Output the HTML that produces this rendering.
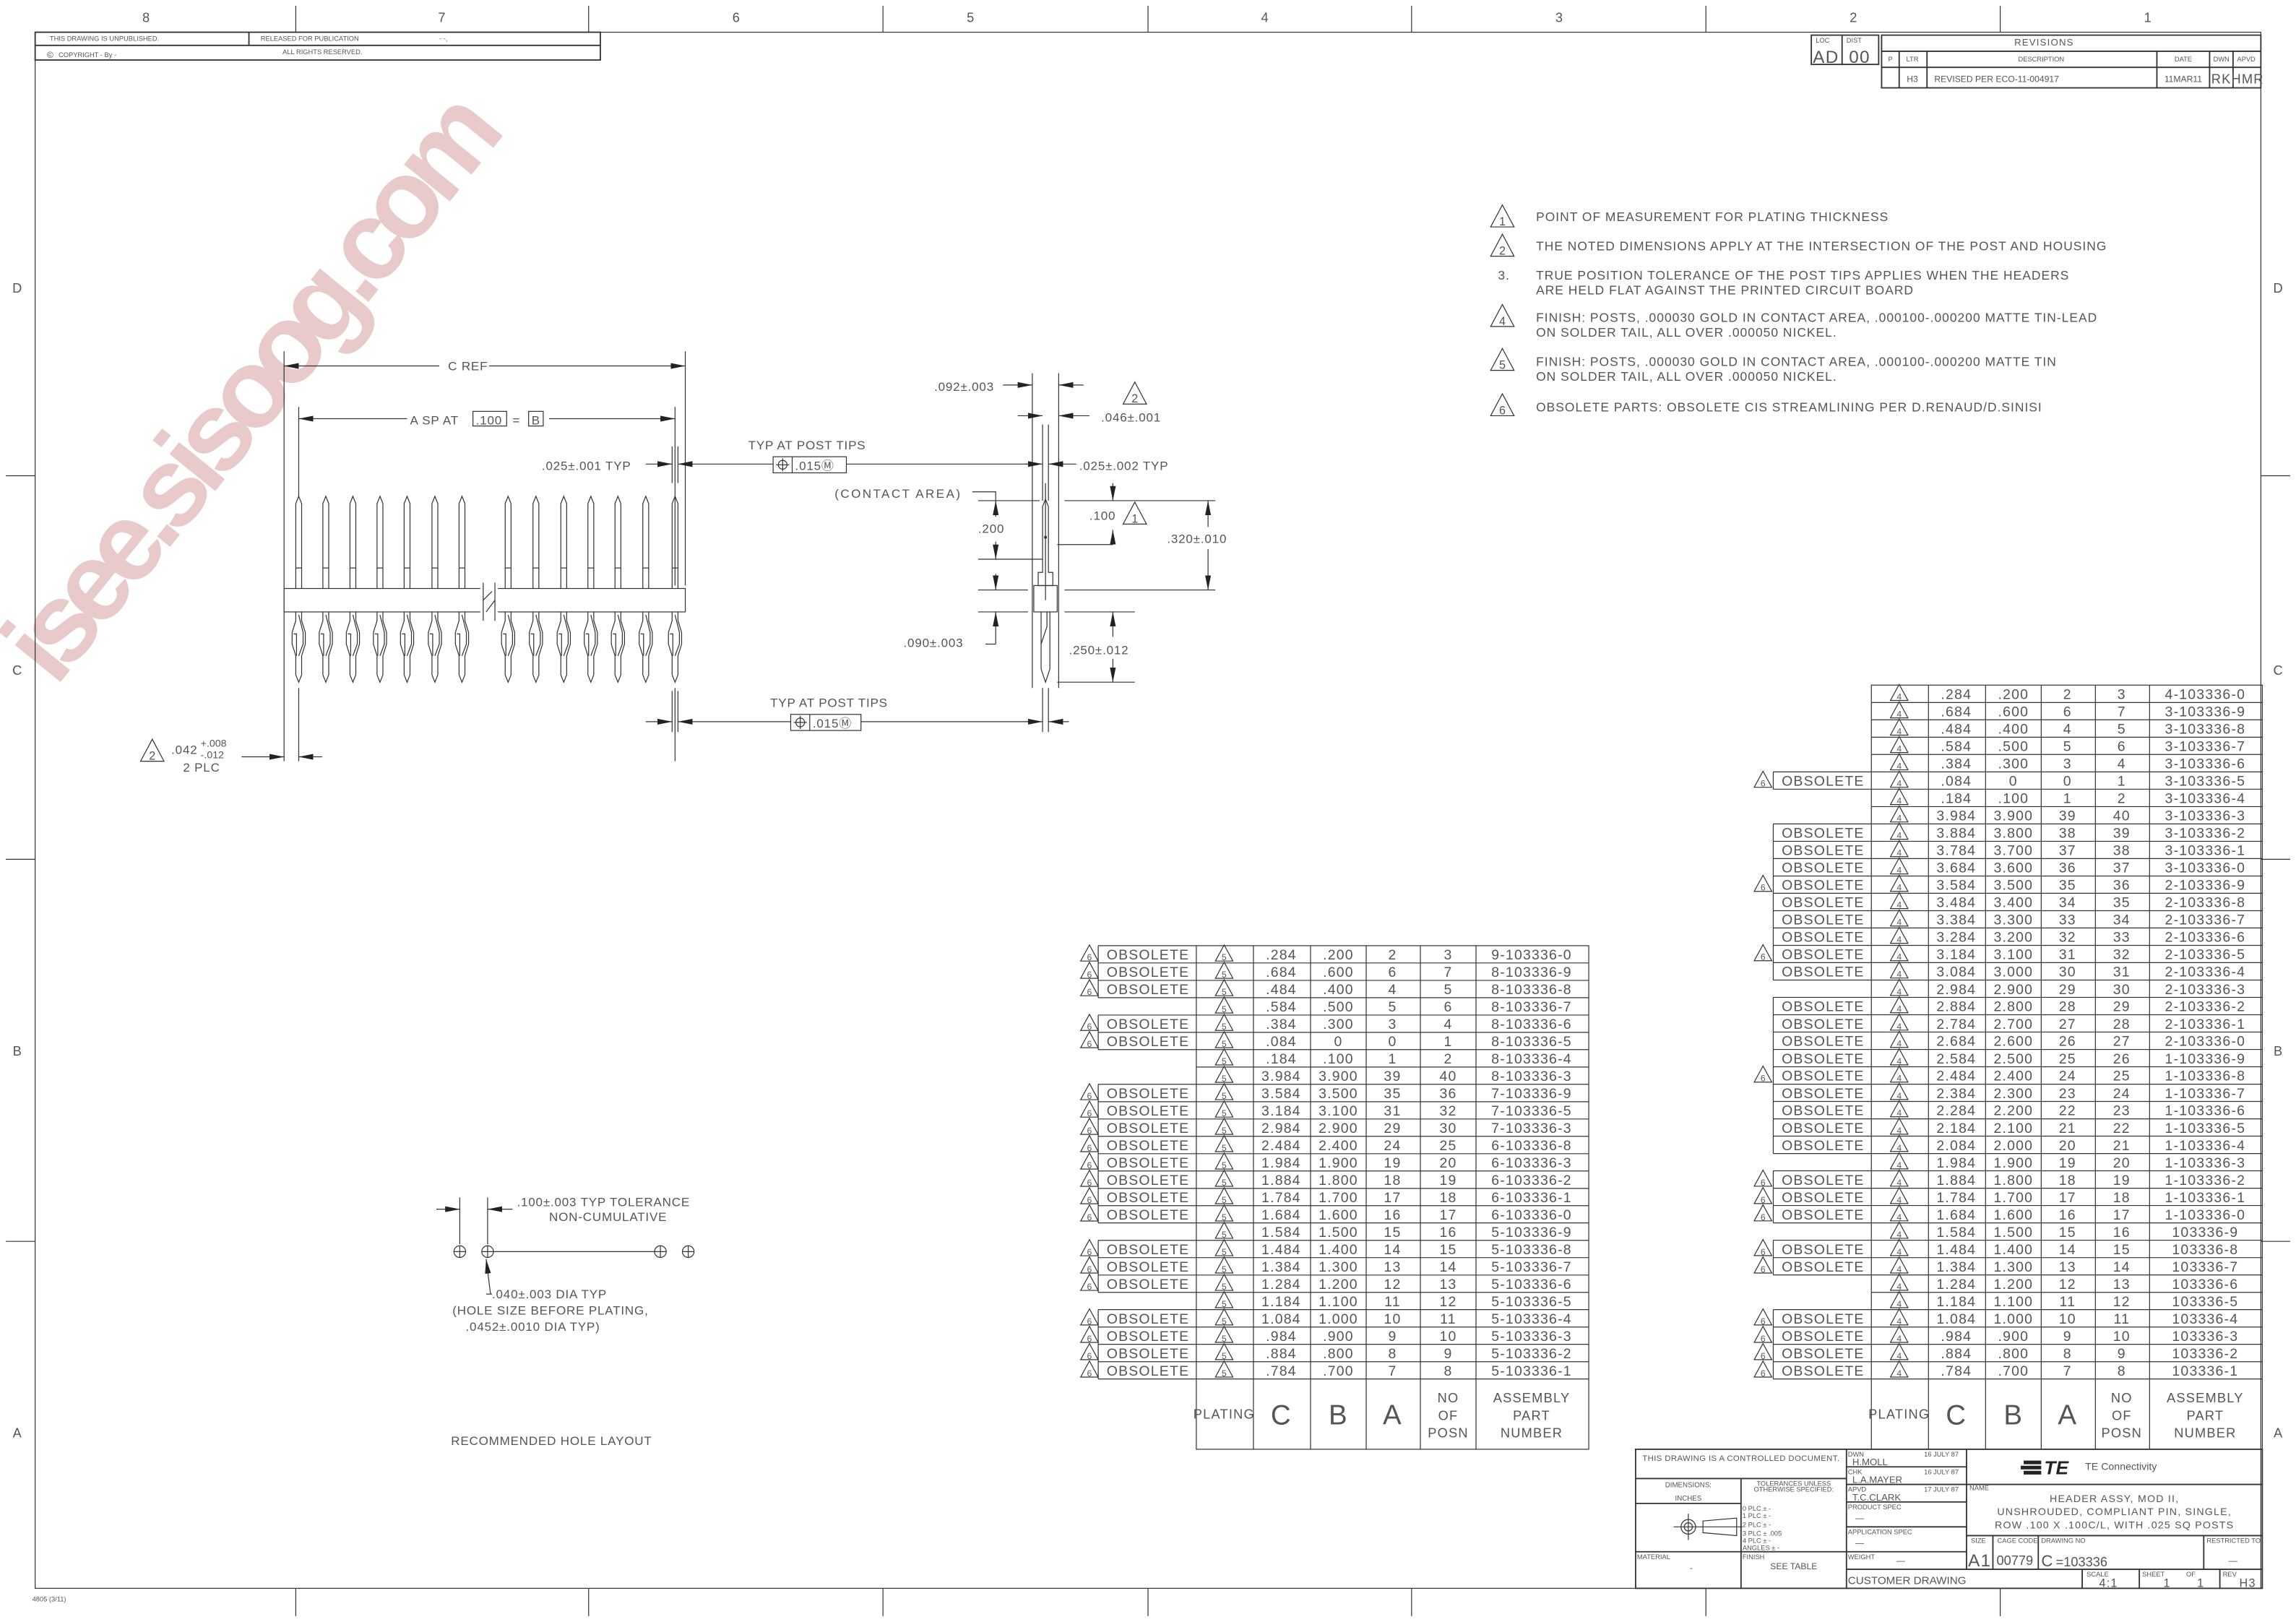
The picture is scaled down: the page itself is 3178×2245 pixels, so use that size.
<!DOCTYPE html>
<html><head><meta charset="utf-8"><style>
html,body{margin:0;padding:0;background:#fff}
svg{display:block}
text{font-family:"Liberation Sans",sans-serif;fill:#555}
.c{text-anchor:middle;font-size:9.6px;letter-spacing:.6px}
.n{text-anchor:middle;font-size:6px}
.nb{text-anchor:middle;font-size:8px}
.s{font-size:4.6px}
.m{font-size:8.6px;letter-spacing:.5px}
.d{font-size:8.4px;letter-spacing:.4px}
.L{stroke:#333;stroke-width:.6;fill:none}
.T{stroke:#333;stroke-width:.9;fill:none}
</style></head><body>
<svg width="3178" height="2245" viewBox="0 0 1568 1108" preserveAspectRatio="none" xmlns="http://www.w3.org/2000/svg">
<defs>
<path id="tr" d="M0,-0.5 L6,10.5 L-6,10.5Z" fill="none" stroke="#333" stroke-width=".6"/>
<path id="tb" d="M0,-1 L8,14 L-8,14Z" fill="none" stroke="#333" stroke-width=".6"/>
<marker id="a" viewBox="0 0 10 4" refX="10" refY="2" markerWidth="10" markerHeight="4" orient="auto-start-reverse" markerUnits="userSpaceOnUse"><path d="M0,0 L10,2 L0,4Z" fill="#222"/></marker>
<g id="pin" class="L">
<path d="M-2,402 V344 L0,339 L2,344 V402"/><path d="M-2,388 H2"/>
<path d="M-2,418 V424 L-4.5,432 V440 L-2,448 V461 L0,466 L2,461 V448 L4.5,440 V432 L2,424 V418"/>
<path d="M0,420 L3,432 V440 L0,448"/><path d="M-3.5,433 H-1.5 V448"/>
</g>
</defs>
<!-- watermark -->
<text x="0" y="0" transform="translate(38,470) rotate(-51)" textLength="490" style="font-size:76px;font-weight:bold;fill:#e8caca">isee.sisoog.com</text>
<!-- frame -->
<g class="L">
<rect x="24" y="22" width="1520" height="1063"/>
<path d="M202,4V22 M402,4V22 M603,4V22 M784,4V22 M964,4V22 M1165,4V22 M1366,4V22"/>
<path d="M202,1085V1104 M402,1085V1104 M603,1085V1104 M784,1085V1104 M964,1085V1104 M1165,1085V1104 M1366,1085V1104"/>
<path d="M4,325H24 M4,587H24 M4,848H24 M1544,325H1564 M1544,587H1564 M1544,848H1564"/>
</g>
<g class="c" style="font-size:9px">
<text x="100" y="15">8</text><text x="302" y="15">7</text><text x="503" y="15">6</text><text x="663" y="15">5</text><text x="864" y="15">4</text><text x="1065" y="15">3</text><text x="1266" y="15">2</text><text x="1467" y="15">1</text>
<text x="12" y="200">D</text><text x="12" y="461">C</text><text x="12" y="721">B</text><text x="12" y="982">A</text>
<text x="1556" y="200">D</text><text x="1556" y="461">C</text><text x="1556" y="721">B</text><text x="1556" y="982">A</text>
</g>
<text x="22" y="1094" class="s">4805 (3/11)</text>
<!-- top-left block -->
<g class="T"><rect x="24" y="22" width="386" height="19"/><path d="M24,31H410 M170,22V31"/></g>
<text x="34" y="28" class="s">THIS DRAWING IS UNPUBLISHED.</text>
<text x="178" y="28" class="s">RELEASED FOR PUBLICATION</text>
<text x="300" y="28" class="s">- -,</text>
<text x="32" y="39.5" style="font-size:6px">©</text><text x="40" y="39" class="s">COPYRIGHT  -    By -</text>
<text x="193" y="37" class="s">ALL RIGHTS RESERVED.</text>
<!-- revisions -->
<g class="T"><rect x="1237" y="24" width="46" height="20"/><path d="M1258,24V44"/>
<rect x="1285" y="24" width="259" height="36"/><path d="M1285,35H1544 M1285,46H1544 M1297,35V60 M1316,35V60 M1473,35V60 M1509,35V60 M1525,35V60"/></g>
<text x="1240" y="29" class="s">LOC</text><text x="1261" y="29" class="s">DIST</text>
<text x="1247" y="43" class="c" style="font-size:12px">AD</text><text x="1270" y="43" class="c" style="font-size:12px">00</text>
<text x="1396" y="31" class="c" style="font-size:6.5px">REVISIONS</text>
<g class="s" style="text-anchor:middle"><text x="1291" y="42">P</text><text x="1306" y="42">LTR</text><text x="1394" y="42">DESCRIPTION</text><text x="1491" y="42">DATE</text><text x="1517" y="42">DWN</text><text x="1534" y="42">APVD</text></g>
<text x="1306" y="56" class="n">H3</text><text x="1321" y="56" style="font-size:6px">REVISED PER ECO-11-004917</text>
<text x="1491" y="56" class="n">11MAR11</text><text x="1517" y="57" class="c" style="font-size:9px">RK</text><text x="1535" y="57" class="c" style="font-size:9px">HMR</text>
<!-- notes -->
<g>
<use href="#tb" x="1026" y="141"/><text x="1026" y="154" class="nb">1</text>
<use href="#tb" x="1026" y="161"/><text x="1026" y="174" class="nb">2</text>
<use href="#tb" x="1026" y="209"/><text x="1026" y="222" class="nb">4</text>
<use href="#tb" x="1026" y="239"/><text x="1026" y="252" class="nb">5</text>
<use href="#tb" x="1026" y="270"/><text x="1026" y="283" class="nb">6</text>
</g>
<g class="m">
<text x="1049" y="151">POINT OF MEASUREMENT FOR PLATING THICKNESS</text>
<text x="1049" y="171">THE NOTED DIMENSIONS APPLY AT THE INTERSECTION OF THE POST AND HOUSING</text>
<text x="1023" y="191">3.</text>
<text x="1049" y="191">TRUE POSITION TOLERANCE OF THE POST TIPS APPLIES WHEN THE HEADERS</text>
<text x="1049" y="201">ARE HELD FLAT AGAINST THE PRINTED CIRCUIT BOARD</text>
<text x="1049" y="220">FINISH: POSTS, .000030 GOLD IN CONTACT AREA, .000100-.000200 MATTE TIN-LEAD</text>
<text x="1049" y="230">ON SOLDER TAIL, ALL OVER .000050 NICKEL.</text>
<text x="1049" y="250">FINISH: POSTS, .000030 GOLD IN CONTACT AREA, .000100-.000200 MATTE TIN</text>
<text x="1049" y="260">ON SOLDER TAIL, ALL OVER .000050 NICKEL.</text>
<text x="1049" y="281">OBSOLETE PARTS: OBSOLETE CIS STREAMLINING PER D.RENAUD/D.SINISI</text>
</g>
<!-- left view -->
<g class="L">
<path d="M194,240V520 M468,240V400 M461,278V400 M204,278V340 M204,470V520 M461,470V520"/>
<path d="M194,250H300" marker-start="url(#a)"/><path d="M334,250H468" marker-end="url(#a)"/>
<path d="M204,286H278" marker-start="url(#a)"/><path d="M375,286H461" marker-end="url(#a)"/>
<path d="M441,317H459" marker-end="url(#a)"/><path d="M463,317H528" marker-start="url(#a)"/>
<path d="M459,305V330 M463,305V330 M459,472V500 M463,472V500"/>
<path d="M578,317H710"/>
<path d="M441,493H459" marker-end="url(#a)"/><path d="M463,493H540" marker-start="url(#a)"/><path d="M588,493H710" />
<path d="M165,517H194" marker-end="url(#a)"/><path d="M204,517H220" marker-start="url(#a)"/>
</g>
<rect x="194" y="402" width="274" height="16" fill="#fff" stroke="#333" stroke-width=".6"/>
<rect x="328" y="400" width="12" height="20" fill="#fff"/>
<path d="M330,398V424 M338,398V424 M330,410L336,404 M332,418L338,410" class="L"/>
<g>
<use href="#pin" x="204"/><use href="#pin" x="222.5"/><use href="#pin" x="241"/><use href="#pin" x="259.5"/><use href="#pin" x="278"/><use href="#pin" x="297"/><use href="#pin" x="315.5"/>
<use href="#pin" x="347"/><use href="#pin" x="366"/><use href="#pin" x="385"/><use href="#pin" x="403.5"/><use href="#pin" x="422"/><use href="#pin" x="441"/><use href="#pin" x="461"/>
</g>
<rect x="300" y="245" width="34" height="10" fill="#fff"/>
<text x="306" y="253" class="d">C REF</text>
<text x="280" y="290" class="d">A SP AT</text>
<rect x="323" y="281" width="23" height="10" class="L"/><text x="325" y="290" class="d">.100</text>
<text x="350" y="290" class="d">=</text><rect x="361" y="281" width="10" height="10" class="L"/><text x="363" y="290" class="d">B</text>
<text x="370" y="321" class="d">.025±.001 TYP</text>
<text x="511" y="307" class="d">TYP AT POST TIPS</text>
<rect x="528" y="312" width="50" height="11" class="L"/><path d="M541,312V323" class="L"/>
<circle cx="534.5" cy="317.5" r="3" class="L"/><path d="M534.5,313V322 M530,317.5H539" class="L"/>
<text x="543" y="321" class="d">.015Ⓜ</text>
<text x="526" y="483" class="d">TYP AT POST TIPS</text>
<rect x="540" y="488" width="48" height="11" class="L"/><path d="M553,488V499" class="L"/>
<circle cx="546.5" cy="493.5" r="3" class="L"/><path d="M546.5,489V498 M542,493.5H551" class="L"/>
<text x="555" y="497" class="d">.015Ⓜ</text>
<use href="#tb" x="104" y="506"/><text x="104" y="519" class="nb">2</text>
<text x="117" y="515" class="d">.042</text><text x="137" y="510" style="font-size:7px">+.008</text><text x="137" y="518" style="font-size:7px">-.012</text>
<text x="125" y="527" class="d">2 PLC</text>
<!-- side view -->
<g class="L">
<path d="M705,255V470 M723,255V470 M712,290V342 M716,290V342 M712,470V500 M716,470V500"/>
<path d="M685,263H705" marker-end="url(#a)"/><path d="M723,263H740" marker-start="url(#a)"/>
<path d="M695,284H712" marker-end="url(#a)"/><path d="M723,284H744" marker-start="url(#a)"/>
<path d="M700,317H712" marker-end="url(#a)"/><path d="M716,317H735" marker-start="url(#a)"/>
<path d="M712,346 L714,341 L716,346 V391 H719 V400 H709 V391 H712 Z"/>
<rect x="706" y="400" width="16" height="18"/>
<path d="M711,418V457 L714,466 L717,457 V418 M715,418V428 L711,440"/>
<path d="M714,330V410"/>
<path d="M664,336H680V342" /><path d="M668,342H710 M668,382H712 M668,403H702 M668,418H702 M727,342H830 M727,403H830 M727,418H775 M722,466H775 M722,372H760"/>
<path d="M680,353V342" marker-end="url(#a)"/><path d="M680,370V382" marker-end="url(#a)"/>
<path d="M680,392V403" marker-end="url(#a)"/>
<path d="M680,440H673 M680,440V418" marker-end="url(#a)"/>
<path d="M760,330V342" marker-end="url(#a)"/><path d="M760,362V372" marker-start="url(#a)"/>
<path d="M825,360V342" marker-end="url(#a)"/><path d="M825,375V403" marker-end="url(#a)"/>
<path d="M760,435V418" marker-end="url(#a)"/><path d="M760,450V466" marker-end="url(#a)"/>
<path d="M700,493H712" marker-end="url(#a)"/><path d="M716,493H730" marker-start="url(#a)"/>
</g>
<circle cx="714" cy="367" r="1" fill="#333"/>
<text x="638" y="267" class="d">.092±.003</text>
<use href="#tb" x="775" y="262"/><text x="775" y="275" class="nb">2</text>
<text x="752" y="288" class="d">.046±.001</text>
<text x="737" y="321" class="d">.025±.002 TYP</text>
<text x="570" y="340" class="d" style="letter-spacing:1.2px">(CONTACT AREA)</text>
<text x="668" y="364" class="d">.200</text>
<text x="744" y="355" class="d">.100</text>
<use href="#tb" x="775" y="344"/><text x="775" y="357" class="nb">1</text>
<text x="797" y="371" class="d">.320±.010</text>
<text x="617" y="442" class="d">.090±.003</text>
<text x="730" y="447" class="d">.250±.012</text>
<!-- hole layout -->
<g class="L">
<path d="M314,818V850 M333,818V850 M337,855H447"/>
<path d="M298,826H314" marker-end="url(#a)"/><path d="M333,826H350" marker-start="url(#a)"/>
<circle cx="314" cy="855" r="4"/><circle cx="333" cy="855" r="4"/><circle cx="451" cy="855" r="4"/><circle cx="470" cy="855" r="4"/>
<path d="M314,851V859 M310,855H318 M333,851V859 M329,855H337 M451,851V859 M447,855H455 M470,851V859 M466,855H474"/>
<path d="M335,884L332,860" marker-end="url(#a)"/><path d="M332,884H336"/>
</g>
<text x="353" y="824" class="d">.100±.003 TYP TOLERANCE</text>
<text x="375" y="834" class="d">NON-CUMULATIVE</text>
<text x="336" y="887" class="d">.040±.003 DIA TYP</text>
<text x="309" y="898" class="d">(HOLE SIZE BEFORE PLATING,</text>
<text x="318" y="909" class="d">.0452±.0010 DIA TYP)</text>
<text x="308" y="987" class="d">RECOMMENDED HOLE LAYOUT</text>
<!-- middle table grid -->
<g class="L">
<rect x="817" y="646" width="268" height="344"/>
<path d="M856,646V990 M895,646V990 M933,646V990 M970,646V990 M1008,646V990"/>
<path d="M817,657.8H1085 M817,669.7H1085 M817,681.5H1085 M817,693.4H1085 M817,705.2H1085 M817,717H1085 M817,728.9H1085 M817,740.7H1085 M817,752.6H1085 M817,764.4H1085 M817,776.2H1085 M817,788.1H1085 M817,799.9H1085 M817,811.8H1085 M817,823.6H1085 M817,835.4H1085 M817,847.3H1085 M817,859.1H1085 M817,871H1085 M817,882.8H1085 M817,894.6H1085 M817,906.5H1085 M817,918.3H1085 M817,930.2H1085 M817,942H1085"/>
<path d="M750,646V681.5 M750,693.4V717 M750,740.7V835.4 M750,847.3V882.8 M750,894.6V942"/>
<path d="M750,646H817 M750,657.8H817 M750,669.7H817 M750,681.5H817 M750,693.4H817 M750,705.2H817 M750,717H817 M750,740.7H817 M750,752.6H817 M750,764.4H817 M750,776.2H817 M750,788.1H817 M750,799.9H817 M750,811.8H817 M750,823.6H817 M750,835.4H817 M750,847.3H817 M750,859.1H817 M750,871H817 M750,882.8H817 M750,894.6H817 M750,906.5H817 M750,918.3H817 M750,930.2H817 M750,942H817"/>
</g>
<g class="c" style="font-size:9px">
<text x="836" y="969">PLATING</text>
<text x="875" y="973" style="font-size:19px">C</text><text x="914" y="973" style="font-size:19px">B</text><text x="951" y="973" style="font-size:19px">A</text>
<text x="989" y="958">NO</text><text x="989" y="970">OF</text><text x="989" y="982">POSN</text>
<text x="1046" y="958">ASSEMBLY</text><text x="1046" y="970">PART</text><text x="1046" y="982">NUMBER</text>
</g>
<!-- middle rows -->
<g id="mid">
<g transform="translate(0,646)"><use href="#tr" x="744"/><text x="744" y="10" class="n">6</text><text x="784" y="9.5" class="c">OBSOLETE</text><use href="#tr" x="836"/><text x="836" y="10" class="n">5</text><text x="875" y="9.5" class="c">.284</text><text x="914" y="9.5" class="c">.200</text><text x="951" y="9.5" class="c">2</text><text x="989" y="9.5" class="c">3</text><text x="1046" y="9.5" class="c">9-103336-0</text></g>
<g transform="translate(0,657.8)"><use href="#tr" x="744"/><text x="744" y="10" class="n">6</text><text x="784" y="9.5" class="c">OBSOLETE</text><use href="#tr" x="836"/><text x="836" y="10" class="n">5</text><text x="875" y="9.5" class="c">.684</text><text x="914" y="9.5" class="c">.600</text><text x="951" y="9.5" class="c">6</text><text x="989" y="9.5" class="c">7</text><text x="1046" y="9.5" class="c">8-103336-9</text></g>
<g transform="translate(0,669.7)"><use href="#tr" x="744"/><text x="744" y="10" class="n">6</text><text x="784" y="9.5" class="c">OBSOLETE</text><use href="#tr" x="836"/><text x="836" y="10" class="n">5</text><text x="875" y="9.5" class="c">.484</text><text x="914" y="9.5" class="c">.400</text><text x="951" y="9.5" class="c">4</text><text x="989" y="9.5" class="c">5</text><text x="1046" y="9.5" class="c">8-103336-8</text></g>
<g transform="translate(0,681.5)"><use href="#tr" x="836"/><text x="836" y="10" class="n">5</text><text x="875" y="9.5" class="c">.584</text><text x="914" y="9.5" class="c">.500</text><text x="951" y="9.5" class="c">5</text><text x="989" y="9.5" class="c">6</text><text x="1046" y="9.5" class="c">8-103336-7</text></g>
<g transform="translate(0,693.4)"><use href="#tr" x="744"/><text x="744" y="10" class="n">6</text><text x="784" y="9.5" class="c">OBSOLETE</text><use href="#tr" x="836"/><text x="836" y="10" class="n">5</text><text x="875" y="9.5" class="c">.384</text><text x="914" y="9.5" class="c">.300</text><text x="951" y="9.5" class="c">3</text><text x="989" y="9.5" class="c">4</text><text x="1046" y="9.5" class="c">8-103336-6</text></g>
<g transform="translate(0,705.2)"><use href="#tr" x="744"/><text x="744" y="10" class="n">6</text><text x="784" y="9.5" class="c">OBSOLETE</text><use href="#tr" x="836"/><text x="836" y="10" class="n">5</text><text x="875" y="9.5" class="c">.084</text><text x="914" y="9.5" class="c">0</text><text x="951" y="9.5" class="c">0</text><text x="989" y="9.5" class="c">1</text><text x="1046" y="9.5" class="c">8-103336-5</text></g>
<g transform="translate(0,717)"><use href="#tr" x="836"/><text x="836" y="10" class="n">5</text><text x="875" y="9.5" class="c">.184</text><text x="914" y="9.5" class="c">.100</text><text x="951" y="9.5" class="c">1</text><text x="989" y="9.5" class="c">2</text><text x="1046" y="9.5" class="c">8-103336-4</text></g>
<g transform="translate(0,728.9)"><use href="#tr" x="836"/><text x="836" y="10" class="n">5</text><text x="875" y="9.5" class="c">3.984</text><text x="914" y="9.5" class="c">3.900</text><text x="951" y="9.5" class="c">39</text><text x="989" y="9.5" class="c">40</text><text x="1046" y="9.5" class="c">8-103336-3</text></g>
<g transform="translate(0,740.7)"><use href="#tr" x="744"/><text x="744" y="10" class="n">6</text><text x="784" y="9.5" class="c">OBSOLETE</text><use href="#tr" x="836"/><text x="836" y="10" class="n">5</text><text x="875" y="9.5" class="c">3.584</text><text x="914" y="9.5" class="c">3.500</text><text x="951" y="9.5" class="c">35</text><text x="989" y="9.5" class="c">36</text><text x="1046" y="9.5" class="c">7-103336-9</text></g>
<g transform="translate(0,752.6)"><use href="#tr" x="744"/><text x="744" y="10" class="n">6</text><text x="784" y="9.5" class="c">OBSOLETE</text><use href="#tr" x="836"/><text x="836" y="10" class="n">5</text><text x="875" y="9.5" class="c">3.184</text><text x="914" y="9.5" class="c">3.100</text><text x="951" y="9.5" class="c">31</text><text x="989" y="9.5" class="c">32</text><text x="1046" y="9.5" class="c">7-103336-5</text></g>
<g transform="translate(0,764.4)"><use href="#tr" x="744"/><text x="744" y="10" class="n">6</text><text x="784" y="9.5" class="c">OBSOLETE</text><use href="#tr" x="836"/><text x="836" y="10" class="n">5</text><text x="875" y="9.5" class="c">2.984</text><text x="914" y="9.5" class="c">2.900</text><text x="951" y="9.5" class="c">29</text><text x="989" y="9.5" class="c">30</text><text x="1046" y="9.5" class="c">7-103336-3</text></g>
<g transform="translate(0,776.2)"><use href="#tr" x="744"/><text x="744" y="10" class="n">6</text><text x="784" y="9.5" class="c">OBSOLETE</text><use href="#tr" x="836"/><text x="836" y="10" class="n">5</text><text x="875" y="9.5" class="c">2.484</text><text x="914" y="9.5" class="c">2.400</text><text x="951" y="9.5" class="c">24</text><text x="989" y="9.5" class="c">25</text><text x="1046" y="9.5" class="c">6-103336-8</text></g>
<g transform="translate(0,788.1)"><use href="#tr" x="744"/><text x="744" y="10" class="n">6</text><text x="784" y="9.5" class="c">OBSOLETE</text><use href="#tr" x="836"/><text x="836" y="10" class="n">5</text><text x="875" y="9.5" class="c">1.984</text><text x="914" y="9.5" class="c">1.900</text><text x="951" y="9.5" class="c">19</text><text x="989" y="9.5" class="c">20</text><text x="1046" y="9.5" class="c">6-103336-3</text></g>
<g transform="translate(0,799.9)"><use href="#tr" x="744"/><text x="744" y="10" class="n">6</text><text x="784" y="9.5" class="c">OBSOLETE</text><use href="#tr" x="836"/><text x="836" y="10" class="n">5</text><text x="875" y="9.5" class="c">1.884</text><text x="914" y="9.5" class="c">1.800</text><text x="951" y="9.5" class="c">18</text><text x="989" y="9.5" class="c">19</text><text x="1046" y="9.5" class="c">6-103336-2</text></g>
<g transform="translate(0,811.8)"><use href="#tr" x="744"/><text x="744" y="10" class="n">6</text><text x="784" y="9.5" class="c">OBSOLETE</text><use href="#tr" x="836"/><text x="836" y="10" class="n">5</text><text x="875" y="9.5" class="c">1.784</text><text x="914" y="9.5" class="c">1.700</text><text x="951" y="9.5" class="c">17</text><text x="989" y="9.5" class="c">18</text><text x="1046" y="9.5" class="c">6-103336-1</text></g>
<g transform="translate(0,823.6)"><use href="#tr" x="744"/><text x="744" y="10" class="n">6</text><text x="784" y="9.5" class="c">OBSOLETE</text><use href="#tr" x="836"/><text x="836" y="10" class="n">5</text><text x="875" y="9.5" class="c">1.684</text><text x="914" y="9.5" class="c">1.600</text><text x="951" y="9.5" class="c">16</text><text x="989" y="9.5" class="c">17</text><text x="1046" y="9.5" class="c">6-103336-0</text></g>
<g transform="translate(0,835.4)"><use href="#tr" x="836"/><text x="836" y="10" class="n">5</text><text x="875" y="9.5" class="c">1.584</text><text x="914" y="9.5" class="c">1.500</text><text x="951" y="9.5" class="c">15</text><text x="989" y="9.5" class="c">16</text><text x="1046" y="9.5" class="c">5-103336-9</text></g>
<g transform="translate(0,847.3)"><use href="#tr" x="744"/><text x="744" y="10" class="n">6</text><text x="784" y="9.5" class="c">OBSOLETE</text><use href="#tr" x="836"/><text x="836" y="10" class="n">5</text><text x="875" y="9.5" class="c">1.484</text><text x="914" y="9.5" class="c">1.400</text><text x="951" y="9.5" class="c">14</text><text x="989" y="9.5" class="c">15</text><text x="1046" y="9.5" class="c">5-103336-8</text></g>
<g transform="translate(0,859.1)"><use href="#tr" x="744"/><text x="744" y="10" class="n">6</text><text x="784" y="9.5" class="c">OBSOLETE</text><use href="#tr" x="836"/><text x="836" y="10" class="n">5</text><text x="875" y="9.5" class="c">1.384</text><text x="914" y="9.5" class="c">1.300</text><text x="951" y="9.5" class="c">13</text><text x="989" y="9.5" class="c">14</text><text x="1046" y="9.5" class="c">5-103336-7</text></g>
<g transform="translate(0,871)"><use href="#tr" x="744"/><text x="744" y="10" class="n">6</text><text x="784" y="9.5" class="c">OBSOLETE</text><use href="#tr" x="836"/><text x="836" y="10" class="n">5</text><text x="875" y="9.5" class="c">1.284</text><text x="914" y="9.5" class="c">1.200</text><text x="951" y="9.5" class="c">12</text><text x="989" y="9.5" class="c">13</text><text x="1046" y="9.5" class="c">5-103336-6</text></g>
<g transform="translate(0,882.8)"><use href="#tr" x="836"/><text x="836" y="10" class="n">5</text><text x="875" y="9.5" class="c">1.184</text><text x="914" y="9.5" class="c">1.100</text><text x="951" y="9.5" class="c">11</text><text x="989" y="9.5" class="c">12</text><text x="1046" y="9.5" class="c">5-103336-5</text></g>
<g transform="translate(0,894.6)"><use href="#tr" x="744"/><text x="744" y="10" class="n">6</text><text x="784" y="9.5" class="c">OBSOLETE</text><use href="#tr" x="836"/><text x="836" y="10" class="n">5</text><text x="875" y="9.5" class="c">1.084</text><text x="914" y="9.5" class="c">1.000</text><text x="951" y="9.5" class="c">10</text><text x="989" y="9.5" class="c">11</text><text x="1046" y="9.5" class="c">5-103336-4</text></g>
<g transform="translate(0,906.5)"><use href="#tr" x="744"/><text x="744" y="10" class="n">6</text><text x="784" y="9.5" class="c">OBSOLETE</text><use href="#tr" x="836"/><text x="836" y="10" class="n">5</text><text x="875" y="9.5" class="c">.984</text><text x="914" y="9.5" class="c">.900</text><text x="951" y="9.5" class="c">9</text><text x="989" y="9.5" class="c">10</text><text x="1046" y="9.5" class="c">5-103336-3</text></g>
<g transform="translate(0,918.3)"><use href="#tr" x="744"/><text x="744" y="10" class="n">6</text><text x="784" y="9.5" class="c">OBSOLETE</text><use href="#tr" x="836"/><text x="836" y="10" class="n">5</text><text x="875" y="9.5" class="c">.884</text><text x="914" y="9.5" class="c">.800</text><text x="951" y="9.5" class="c">8</text><text x="989" y="9.5" class="c">9</text><text x="1046" y="9.5" class="c">5-103336-2</text></g>
<g transform="translate(0,930.2)"><use href="#tr" x="744"/><text x="744" y="10" class="n">6</text><text x="784" y="9.5" class="c">OBSOLETE</text><use href="#tr" x="836"/><text x="836" y="10" class="n">5</text><text x="875" y="9.5" class="c">.784</text><text x="914" y="9.5" class="c">.700</text><text x="951" y="9.5" class="c">7</text><text x="989" y="9.5" class="c">8</text><text x="1046" y="9.5" class="c">5-103336-1</text></g>
</g>
<!-- right table grid -->
<g class="L">
<rect x="1278" y="468" width="267" height="522"/>
<path d="M1317,468V990 M1356,468V990 M1394,468V990 M1431,468V990 M1468,468V990"/>
<path d="M1278,479.9H1545 M1278,491.7H1545 M1278,503.6H1545 M1278,515.4H1545 M1278,527.3H1545 M1278,539.1H1545 M1278,551H1545 M1278,562.8H1545 M1278,574.7H1545 M1278,586.5H1545 M1278,598.4H1545 M1278,610.2H1545 M1278,622.1H1545 M1278,633.9H1545 M1278,645.8H1545 M1278,657.6H1545 M1278,669.5H1545 M1278,681.3H1545 M1278,693.2H1545 M1278,705H1545 M1278,716.9H1545 M1278,728.7H1545 M1278,740.6H1545 M1278,752.4H1545 M1278,764.3H1545 M1278,776.1H1545 M1278,788H1545 M1278,799.8H1545 M1278,811.7H1545 M1278,823.5H1545 M1278,835.4H1545 M1278,847.2H1545 M1278,859.1H1545 M1278,870.9H1545 M1278,882.8H1545 M1278,894.6H1545 M1278,906.5H1545 M1278,918.3H1545 M1278,930.2H1545 M1278,942H1545"/>
<path d="M1211,527.3V539.1 M1211,562.8V669.5 M1211,681.3V788 M1211,799.8V835.4 M1211,847.2V870.9 M1211,894.6V942"/>
<path d="M1211,527.3H1278 M1211,539.1H1278 M1211,562.8H1278 M1211,574.7H1278 M1211,586.5H1278 M1211,598.4H1278 M1211,610.2H1278 M1211,622.1H1278 M1211,633.9H1278 M1211,645.8H1278 M1211,657.6H1278 M1211,669.5H1278 M1211,681.3H1278 M1211,693.2H1278 M1211,705H1278 M1211,716.9H1278 M1211,728.7H1278 M1211,740.6H1278 M1211,752.4H1278 M1211,764.3H1278 M1211,776.1H1278 M1211,788H1278 M1211,799.8H1278 M1211,811.7H1278 M1211,823.5H1278 M1211,835.4H1278 M1211,847.2H1278 M1211,859.1H1278 M1211,870.9H1278 M1211,894.6H1278 M1211,906.5H1278 M1211,918.3H1278 M1211,930.2H1278 M1211,942H1278"/>
</g>
<g class="c" style="font-size:9px">
<text x="1297" y="969">PLATING</text>
<text x="1336" y="973" style="font-size:19px">C</text><text x="1375" y="973" style="font-size:19px">B</text><text x="1412" y="973" style="font-size:19px">A</text>
<text x="1449" y="958">NO</text><text x="1449" y="970">OF</text><text x="1449" y="982">POSN</text>
<text x="1506" y="958">ASSEMBLY</text><text x="1506" y="970">PART</text><text x="1506" y="982">NUMBER</text>
</g>
<g id="right">
<g transform="translate(0,468)"><use href="#tr" x="1297"/><text x="1297" y="10" class="n">4</text><text x="1336" y="9.5" class="c">.284</text><text x="1375" y="9.5" class="c">.200</text><text x="1412" y="9.5" class="c">2</text><text x="1449" y="9.5" class="c">3</text><text x="1506" y="9.5" class="c">4-103336-0</text></g>
<g transform="translate(0,479.9)"><use href="#tr" x="1297"/><text x="1297" y="10" class="n">4</text><text x="1336" y="9.5" class="c">.684</text><text x="1375" y="9.5" class="c">.600</text><text x="1412" y="9.5" class="c">6</text><text x="1449" y="9.5" class="c">7</text><text x="1506" y="9.5" class="c">3-103336-9</text></g>
<g transform="translate(0,491.7)"><use href="#tr" x="1297"/><text x="1297" y="10" class="n">4</text><text x="1336" y="9.5" class="c">.484</text><text x="1375" y="9.5" class="c">.400</text><text x="1412" y="9.5" class="c">4</text><text x="1449" y="9.5" class="c">5</text><text x="1506" y="9.5" class="c">3-103336-8</text></g>
<g transform="translate(0,503.6)"><use href="#tr" x="1297"/><text x="1297" y="10" class="n">4</text><text x="1336" y="9.5" class="c">.584</text><text x="1375" y="9.5" class="c">.500</text><text x="1412" y="9.5" class="c">5</text><text x="1449" y="9.5" class="c">6</text><text x="1506" y="9.5" class="c">3-103336-7</text></g>
<g transform="translate(0,515.4)"><use href="#tr" x="1297"/><text x="1297" y="10" class="n">4</text><text x="1336" y="9.5" class="c">.384</text><text x="1375" y="9.5" class="c">.300</text><text x="1412" y="9.5" class="c">3</text><text x="1449" y="9.5" class="c">4</text><text x="1506" y="9.5" class="c">3-103336-6</text></g>
<g transform="translate(0,527.3)"><use href="#tr" x="1204"/><text x="1204" y="10" class="n">6</text><text x="1245" y="9.5" class="c">OBSOLETE</text><use href="#tr" x="1297"/><text x="1297" y="10" class="n">4</text><text x="1336" y="9.5" class="c">.084</text><text x="1375" y="9.5" class="c">0</text><text x="1412" y="9.5" class="c">0</text><text x="1449" y="9.5" class="c">1</text><text x="1506" y="9.5" class="c">3-103336-5</text></g>
<g transform="translate(0,539.1)"><use href="#tr" x="1297"/><text x="1297" y="10" class="n">4</text><text x="1336" y="9.5" class="c">.184</text><text x="1375" y="9.5" class="c">.100</text><text x="1412" y="9.5" class="c">1</text><text x="1449" y="9.5" class="c">2</text><text x="1506" y="9.5" class="c">3-103336-4</text></g>
<g transform="translate(0,551)"><use href="#tr" x="1297"/><text x="1297" y="10" class="n">4</text><text x="1336" y="9.5" class="c">3.984</text><text x="1375" y="9.5" class="c">3.900</text><text x="1412" y="9.5" class="c">39</text><text x="1449" y="9.5" class="c">40</text><text x="1506" y="9.5" class="c">3-103336-3</text></g>
<g transform="translate(0,562.8)"><text x="1245" y="9.5" class="c">OBSOLETE</text><use href="#tr" x="1297"/><text x="1297" y="10" class="n">4</text><text x="1336" y="9.5" class="c">3.884</text><text x="1375" y="9.5" class="c">3.800</text><text x="1412" y="9.5" class="c">38</text><text x="1449" y="9.5" class="c">39</text><text x="1506" y="9.5" class="c">3-103336-2</text></g>
<g transform="translate(0,574.7)"><text x="1245" y="9.5" class="c">OBSOLETE</text><use href="#tr" x="1297"/><text x="1297" y="10" class="n">4</text><text x="1336" y="9.5" class="c">3.784</text><text x="1375" y="9.5" class="c">3.700</text><text x="1412" y="9.5" class="c">37</text><text x="1449" y="9.5" class="c">38</text><text x="1506" y="9.5" class="c">3-103336-1</text></g>
<g transform="translate(0,586.5)"><text x="1245" y="9.5" class="c">OBSOLETE</text><use href="#tr" x="1297"/><text x="1297" y="10" class="n">4</text><text x="1336" y="9.5" class="c">3.684</text><text x="1375" y="9.5" class="c">3.600</text><text x="1412" y="9.5" class="c">36</text><text x="1449" y="9.5" class="c">37</text><text x="1506" y="9.5" class="c">3-103336-0</text></g>
<g transform="translate(0,598.4)"><use href="#tr" x="1204"/><text x="1204" y="10" class="n">6</text><text x="1245" y="9.5" class="c">OBSOLETE</text><use href="#tr" x="1297"/><text x="1297" y="10" class="n">4</text><text x="1336" y="9.5" class="c">3.584</text><text x="1375" y="9.5" class="c">3.500</text><text x="1412" y="9.5" class="c">35</text><text x="1449" y="9.5" class="c">36</text><text x="1506" y="9.5" class="c">2-103336-9</text></g>
<g transform="translate(0,610.2)"><text x="1245" y="9.5" class="c">OBSOLETE</text><use href="#tr" x="1297"/><text x="1297" y="10" class="n">4</text><text x="1336" y="9.5" class="c">3.484</text><text x="1375" y="9.5" class="c">3.400</text><text x="1412" y="9.5" class="c">34</text><text x="1449" y="9.5" class="c">35</text><text x="1506" y="9.5" class="c">2-103336-8</text></g>
<g transform="translate(0,622.1)"><text x="1245" y="9.5" class="c">OBSOLETE</text><use href="#tr" x="1297"/><text x="1297" y="10" class="n">4</text><text x="1336" y="9.5" class="c">3.384</text><text x="1375" y="9.5" class="c">3.300</text><text x="1412" y="9.5" class="c">33</text><text x="1449" y="9.5" class="c">34</text><text x="1506" y="9.5" class="c">2-103336-7</text></g>
<g transform="translate(0,633.9)"><text x="1245" y="9.5" class="c">OBSOLETE</text><use href="#tr" x="1297"/><text x="1297" y="10" class="n">4</text><text x="1336" y="9.5" class="c">3.284</text><text x="1375" y="9.5" class="c">3.200</text><text x="1412" y="9.5" class="c">32</text><text x="1449" y="9.5" class="c">33</text><text x="1506" y="9.5" class="c">2-103336-6</text></g>
<g transform="translate(0,645.8)"><use href="#tr" x="1204"/><text x="1204" y="10" class="n">6</text><text x="1245" y="9.5" class="c">OBSOLETE</text><use href="#tr" x="1297"/><text x="1297" y="10" class="n">4</text><text x="1336" y="9.5" class="c">3.184</text><text x="1375" y="9.5" class="c">3.100</text><text x="1412" y="9.5" class="c">31</text><text x="1449" y="9.5" class="c">32</text><text x="1506" y="9.5" class="c">2-103336-5</text></g>
<g transform="translate(0,657.6)"><text x="1245" y="9.5" class="c">OBSOLETE</text><use href="#tr" x="1297"/><text x="1297" y="10" class="n">4</text><text x="1336" y="9.5" class="c">3.084</text><text x="1375" y="9.5" class="c">3.000</text><text x="1412" y="9.5" class="c">30</text><text x="1449" y="9.5" class="c">31</text><text x="1506" y="9.5" class="c">2-103336-4</text></g>
<g transform="translate(0,669.5)"><use href="#tr" x="1297"/><text x="1297" y="10" class="n">4</text><text x="1336" y="9.5" class="c">2.984</text><text x="1375" y="9.5" class="c">2.900</text><text x="1412" y="9.5" class="c">29</text><text x="1449" y="9.5" class="c">30</text><text x="1506" y="9.5" class="c">2-103336-3</text></g>
<g transform="translate(0,681.3)"><text x="1245" y="9.5" class="c">OBSOLETE</text><use href="#tr" x="1297"/><text x="1297" y="10" class="n">4</text><text x="1336" y="9.5" class="c">2.884</text><text x="1375" y="9.5" class="c">2.800</text><text x="1412" y="9.5" class="c">28</text><text x="1449" y="9.5" class="c">29</text><text x="1506" y="9.5" class="c">2-103336-2</text></g>
<g transform="translate(0,693.2)"><text x="1245" y="9.5" class="c">OBSOLETE</text><use href="#tr" x="1297"/><text x="1297" y="10" class="n">4</text><text x="1336" y="9.5" class="c">2.784</text><text x="1375" y="9.5" class="c">2.700</text><text x="1412" y="9.5" class="c">27</text><text x="1449" y="9.5" class="c">28</text><text x="1506" y="9.5" class="c">2-103336-1</text></g>
<g transform="translate(0,705)"><text x="1245" y="9.5" class="c">OBSOLETE</text><use href="#tr" x="1297"/><text x="1297" y="10" class="n">4</text><text x="1336" y="9.5" class="c">2.684</text><text x="1375" y="9.5" class="c">2.600</text><text x="1412" y="9.5" class="c">26</text><text x="1449" y="9.5" class="c">27</text><text x="1506" y="9.5" class="c">2-103336-0</text></g>
<g transform="translate(0,716.9)"><text x="1245" y="9.5" class="c">OBSOLETE</text><use href="#tr" x="1297"/><text x="1297" y="10" class="n">4</text><text x="1336" y="9.5" class="c">2.584</text><text x="1375" y="9.5" class="c">2.500</text><text x="1412" y="9.5" class="c">25</text><text x="1449" y="9.5" class="c">26</text><text x="1506" y="9.5" class="c">1-103336-9</text></g>
<g transform="translate(0,728.7)"><use href="#tr" x="1204"/><text x="1204" y="10" class="n">6</text><text x="1245" y="9.5" class="c">OBSOLETE</text><use href="#tr" x="1297"/><text x="1297" y="10" class="n">4</text><text x="1336" y="9.5" class="c">2.484</text><text x="1375" y="9.5" class="c">2.400</text><text x="1412" y="9.5" class="c">24</text><text x="1449" y="9.5" class="c">25</text><text x="1506" y="9.5" class="c">1-103336-8</text></g>
<g transform="translate(0,740.6)"><text x="1245" y="9.5" class="c">OBSOLETE</text><use href="#tr" x="1297"/><text x="1297" y="10" class="n">4</text><text x="1336" y="9.5" class="c">2.384</text><text x="1375" y="9.5" class="c">2.300</text><text x="1412" y="9.5" class="c">23</text><text x="1449" y="9.5" class="c">24</text><text x="1506" y="9.5" class="c">1-103336-7</text></g>
<g transform="translate(0,752.4)"><text x="1245" y="9.5" class="c">OBSOLETE</text><use href="#tr" x="1297"/><text x="1297" y="10" class="n">4</text><text x="1336" y="9.5" class="c">2.284</text><text x="1375" y="9.5" class="c">2.200</text><text x="1412" y="9.5" class="c">22</text><text x="1449" y="9.5" class="c">23</text><text x="1506" y="9.5" class="c">1-103336-6</text></g>
<g transform="translate(0,764.3)"><text x="1245" y="9.5" class="c">OBSOLETE</text><use href="#tr" x="1297"/><text x="1297" y="10" class="n">4</text><text x="1336" y="9.5" class="c">2.184</text><text x="1375" y="9.5" class="c">2.100</text><text x="1412" y="9.5" class="c">21</text><text x="1449" y="9.5" class="c">22</text><text x="1506" y="9.5" class="c">1-103336-5</text></g>
<g transform="translate(0,776.1)"><text x="1245" y="9.5" class="c">OBSOLETE</text><use href="#tr" x="1297"/><text x="1297" y="10" class="n">4</text><text x="1336" y="9.5" class="c">2.084</text><text x="1375" y="9.5" class="c">2.000</text><text x="1412" y="9.5" class="c">20</text><text x="1449" y="9.5" class="c">21</text><text x="1506" y="9.5" class="c">1-103336-4</text></g>
<g transform="translate(0,788)"><use href="#tr" x="1297"/><text x="1297" y="10" class="n">4</text><text x="1336" y="9.5" class="c">1.984</text><text x="1375" y="9.5" class="c">1.900</text><text x="1412" y="9.5" class="c">19</text><text x="1449" y="9.5" class="c">20</text><text x="1506" y="9.5" class="c">1-103336-3</text></g>
<g transform="translate(0,799.8)"><use href="#tr" x="1204"/><text x="1204" y="10" class="n">6</text><text x="1245" y="9.5" class="c">OBSOLETE</text><use href="#tr" x="1297"/><text x="1297" y="10" class="n">4</text><text x="1336" y="9.5" class="c">1.884</text><text x="1375" y="9.5" class="c">1.800</text><text x="1412" y="9.5" class="c">18</text><text x="1449" y="9.5" class="c">19</text><text x="1506" y="9.5" class="c">1-103336-2</text></g>
<g transform="translate(0,811.7)"><use href="#tr" x="1204"/><text x="1204" y="10" class="n">6</text><text x="1245" y="9.5" class="c">OBSOLETE</text><use href="#tr" x="1297"/><text x="1297" y="10" class="n">4</text><text x="1336" y="9.5" class="c">1.784</text><text x="1375" y="9.5" class="c">1.700</text><text x="1412" y="9.5" class="c">17</text><text x="1449" y="9.5" class="c">18</text><text x="1506" y="9.5" class="c">1-103336-1</text></g>
<g transform="translate(0,823.5)"><use href="#tr" x="1204"/><text x="1204" y="10" class="n">6</text><text x="1245" y="9.5" class="c">OBSOLETE</text><use href="#tr" x="1297"/><text x="1297" y="10" class="n">4</text><text x="1336" y="9.5" class="c">1.684</text><text x="1375" y="9.5" class="c">1.600</text><text x="1412" y="9.5" class="c">16</text><text x="1449" y="9.5" class="c">17</text><text x="1506" y="9.5" class="c">1-103336-0</text></g>
<g transform="translate(0,835.4)"><use href="#tr" x="1297"/><text x="1297" y="10" class="n">4</text><text x="1336" y="9.5" class="c">1.584</text><text x="1375" y="9.5" class="c">1.500</text><text x="1412" y="9.5" class="c">15</text><text x="1449" y="9.5" class="c">16</text><text x="1506" y="9.5" class="c">103336-9</text></g>
<g transform="translate(0,847.2)"><use href="#tr" x="1204"/><text x="1204" y="10" class="n">6</text><text x="1245" y="9.5" class="c">OBSOLETE</text><use href="#tr" x="1297"/><text x="1297" y="10" class="n">4</text><text x="1336" y="9.5" class="c">1.484</text><text x="1375" y="9.5" class="c">1.400</text><text x="1412" y="9.5" class="c">14</text><text x="1449" y="9.5" class="c">15</text><text x="1506" y="9.5" class="c">103336-8</text></g>
<g transform="translate(0,859.1)"><use href="#tr" x="1204"/><text x="1204" y="10" class="n">6</text><text x="1245" y="9.5" class="c">OBSOLETE</text><use href="#tr" x="1297"/><text x="1297" y="10" class="n">4</text><text x="1336" y="9.5" class="c">1.384</text><text x="1375" y="9.5" class="c">1.300</text><text x="1412" y="9.5" class="c">13</text><text x="1449" y="9.5" class="c">14</text><text x="1506" y="9.5" class="c">103336-7</text></g>
<g transform="translate(0,870.9)"><use href="#tr" x="1297"/><text x="1297" y="10" class="n">4</text><text x="1336" y="9.5" class="c">1.284</text><text x="1375" y="9.5" class="c">1.200</text><text x="1412" y="9.5" class="c">12</text><text x="1449" y="9.5" class="c">13</text><text x="1506" y="9.5" class="c">103336-6</text></g>
<g transform="translate(0,882.8)"><use href="#tr" x="1297"/><text x="1297" y="10" class="n">4</text><text x="1336" y="9.5" class="c">1.184</text><text x="1375" y="9.5" class="c">1.100</text><text x="1412" y="9.5" class="c">11</text><text x="1449" y="9.5" class="c">12</text><text x="1506" y="9.5" class="c">103336-5</text></g>
<g transform="translate(0,894.6)"><use href="#tr" x="1204"/><text x="1204" y="10" class="n">6</text><text x="1245" y="9.5" class="c">OBSOLETE</text><use href="#tr" x="1297"/><text x="1297" y="10" class="n">4</text><text x="1336" y="9.5" class="c">1.084</text><text x="1375" y="9.5" class="c">1.000</text><text x="1412" y="9.5" class="c">10</text><text x="1449" y="9.5" class="c">11</text><text x="1506" y="9.5" class="c">103336-4</text></g>
<g transform="translate(0,906.5)"><use href="#tr" x="1204"/><text x="1204" y="10" class="n">6</text><text x="1245" y="9.5" class="c">OBSOLETE</text><use href="#tr" x="1297"/><text x="1297" y="10" class="n">4</text><text x="1336" y="9.5" class="c">.984</text><text x="1375" y="9.5" class="c">.900</text><text x="1412" y="9.5" class="c">9</text><text x="1449" y="9.5" class="c">10</text><text x="1506" y="9.5" class="c">103336-3</text></g>
<g transform="translate(0,918.3)"><use href="#tr" x="1204"/><text x="1204" y="10" class="n">6</text><text x="1245" y="9.5" class="c">OBSOLETE</text><use href="#tr" x="1297"/><text x="1297" y="10" class="n">4</text><text x="1336" y="9.5" class="c">.884</text><text x="1375" y="9.5" class="c">.800</text><text x="1412" y="9.5" class="c">8</text><text x="1449" y="9.5" class="c">9</text><text x="1506" y="9.5" class="c">103336-2</text></g>
<g transform="translate(0,930.2)"><use href="#tr" x="1204"/><text x="1204" y="10" class="n">6</text><text x="1245" y="9.5" class="c">OBSOLETE</text><use href="#tr" x="1297"/><text x="1297" y="10" class="n">4</text><text x="1336" y="9.5" class="c">.784</text><text x="1375" y="9.5" class="c">.700</text><text x="1412" y="9.5" class="c">7</text><text x="1449" y="9.5" class="c">8</text><text x="1506" y="9.5" class="c">103336-1</text></g>
</g>
<!-- title block -->
<g class="T">
<rect x="1117" y="990" width="428" height="95"/>
<path d="M1261,990V1085 M1343,990V1072 M1117,1010H1261 M1117,1027H1189 M1117,1060H1261 M1189,1010V1085"/>
<path d="M1261,1002H1343 M1261,1014H1343 M1261,1026H1343 M1261,1043H1343 M1261,1060H1343 M1261,1072H1545"/>
<path d="M1343,1014H1545 M1343,1049H1545 M1361,1049V1072 M1392,1049V1072 M1505,1049V1072 M1422,1072V1085 M1461,1072V1085 M1516,1072V1085"/>
</g>
<text x="1189" y="998" class="c" style="font-size:5.6px;letter-spacing:.2px">THIS DRAWING IS A CONTROLLED DOCUMENT.</text>
<text x="1153" y="1016" class="n" style="font-size:4.8px">DIMENSIONS:</text><text x="1153" y="1025" class="n" style="font-size:4.8px">INCHES</text>
<text x="1225" y="1015" class="n" style="font-size:4.6px">TOLERANCES UNLESS</text><text x="1225" y="1019" class="n" style="font-size:4.6px">OTHERWISE SPECIFIED:</text>
<g class="s"><text x="1190" y="1032">0 PLC      ± -</text><text x="1190" y="1037">1 PLC      ± -</text><text x="1190" y="1043">2 PLC      ± -</text><text x="1190" y="1049">3 PLC      ± .005</text><text x="1190" y="1054">4 PLC      ± -</text><text x="1190" y="1059">ANGLES          ± -</text>
<text x="1118" y="1065">MATERIAL</text><text x="1190" y="1065">FINISH</text>
<text x="1262" y="995">DWN</text><text x="1262" y="1007">CHK</text><text x="1262" y="1019">APVD</text><text x="1314" y="995">16 JULY 87</text><text x="1314" y="1007">16 JULY 87</text><text x="1314" y="1019">17 JULY 87</text>
<text x="1262" y="1031">PRODUCT SPEC</text><text x="1262" y="1048">APPLICATION SPEC</text><text x="1262" y="1065">WEIGHT</text><text x="1345" y="1018">NAME</text>
<text x="1346" y="1054">SIZE</text><text x="1364" y="1054">CAGE CODE</text><text x="1394" y="1054">DRAWING NO</text><text x="1507" y="1054">RESTRICTED TO</text>
<text x="1425" y="1077">SCALE</text><text x="1463" y="1077">SHEET</text><text x="1493" y="1077">OF</text><text x="1518" y="1077">REV</text>
</g>
<circle cx="1153" cy="1043" r="5" class="L"/><circle cx="1153" cy="1043" r="2.8" class="L"/><path d="M1143,1043H1190 M1153,1034V1052 M1163,1039L1186,1037V1049L1163,1047Z" class="L"/>
<text x="1155" y="1073" class="n">-</text><text x="1225" y="1072" class="n">SEE TABLE</text>
<g style="font-size:6.5px"><text x="1265" y="1001">H.MOLL</text><text x="1265" y="1013">L.A.MAYER</text><text x="1265" y="1025">T.C.CLARK</text></g>
<text x="1270" y="1039" class="n">—</text><text x="1270" y="1056" class="n">—</text><text x="1298" y="1068" class="n">—</text>
<text x="1262" y="1082" style="font-size:7.5px">CUSTOMER DRAWING</text>
<g><path d="M1382,999h12M1380,1002.5h14M1382,1006h12" stroke="#222" stroke-width="2.5"/><text x="1396" y="1007" style="font-size:13px;font-weight:bold;font-style:italic;fill:#222">TE</text></g>
<text x="1424" y="1004" style="font-size:7px">TE Connectivity</text>
<g class="c" style="font-size:7px"><text x="1444" y="1026">HEADER ASSY, MOD II,</text><text x="1444" y="1035">UNSHROUDED, COMPLIANT PIN, SINGLE,</text><text x="1444" y="1044">ROW .100 X .100C/L,  WITH .025 SQ POSTS</text></g>
<text x="1352" y="1070" class="c" style="font-size:12px">A1</text>
<text x="1376" y="1069" class="c" style="font-size:9px;letter-spacing:0">00779</text>
<text x="1394" y="1070" style="font-size:11px">C</text><text x="1404" y="1070" style="font-size:9px">=103336</text>
<text x="1525" y="1068" class="n">—</text>
<text x="1440" y="1084" class="c" style="font-size:8px">4:1</text><text x="1480" y="1084" class="c" style="font-size:8px">1</text><text x="1503" y="1084" class="c" style="font-size:8px">1</text><text x="1535" y="1084" class="c" style="font-size:8px">H3</text>
</svg>
</body></html>
